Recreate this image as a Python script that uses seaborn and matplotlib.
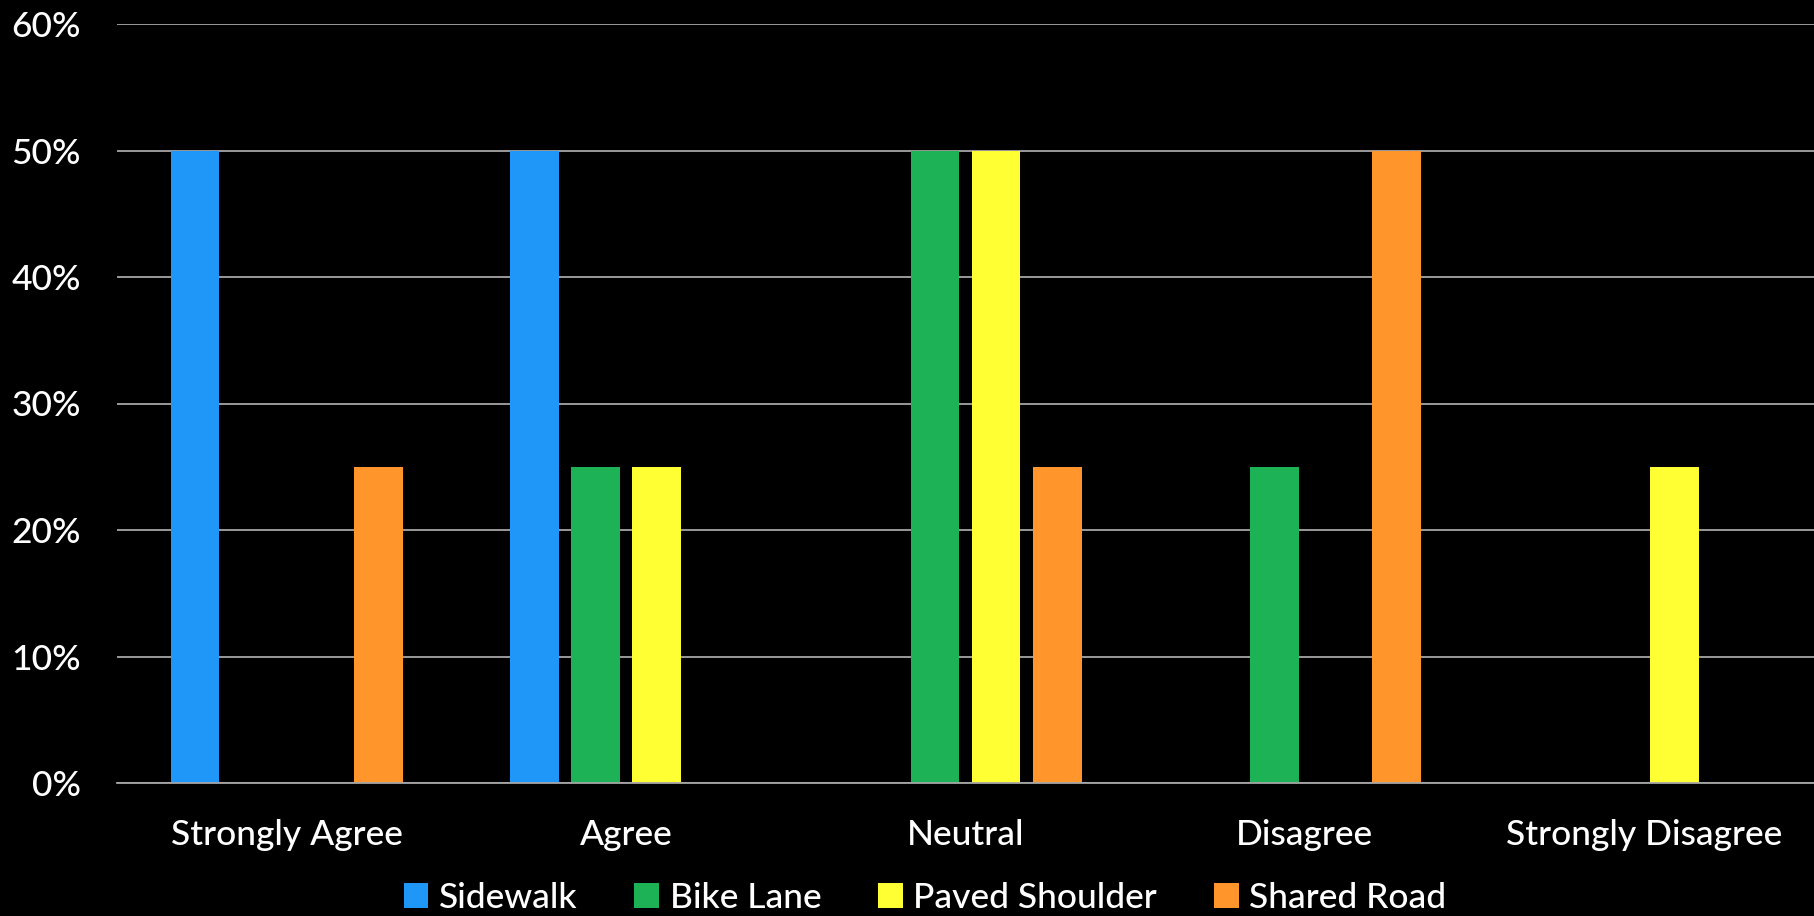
import matplotlib
matplotlib.use("Agg")
import matplotlib.pyplot as plt
import seaborn as sns
import pandas as pd
from matplotlib.ticker import PercentFormatter
from matplotlib.patches import Patch

categories = ["Strongly Agree", "Agree", "Neutral", "Disagree", "Strongly Disagree"]
series = ["Sidewalk", "Bike Lane", "Paved Shoulder", "Shared Road"]
sidewalk = [50, 50, 0, 0, 0]
bike_lane = [0, 25, 50, 25, 0]
paved_shoulder = [0, 25, 50, 0, 25]
shared_road = [25, 0, 25, 50, 0]
colors = ["#1E97F9", "#1DB255", "#FFFF33", "#FF952B"]

rows = []
for name, vals in zip(series, [sidewalk, bike_lane, paved_shoulder, shared_road]):
    for c, v in zip(categories, vals):
        rows.append({"category": c, "series": name, "value": v})
df = pd.DataFrame(rows)

sns.set_theme(style="dark")
plt.rcParams["font.family"] = ["Lato", "DejaVu Sans"]
plt.rcParams["font.weight"] = "medium"

fig = plt.figure(figsize=(18.14, 9.16), dpi=100, facecolor="black")
ax = fig.add_axes([117 / 1814, 1 - 783 / 916, (1814 - 117) / 1814, (783 - 24) / 916])
ax.set_facecolor("black")

sns.barplot(data=df, x="category", y="value", hue="series", order=categories,
            hue_order=series, palette=colors, width=0.72, gap=0.2,
            saturation=1, ax=ax, legend=False, linewidth=0)

ax.set_ylim(0, 60)
ax.set_xlim(-0.5, 4.5)
ax.set_yticks(range(0, 61, 10))
ax.yaxis.set_major_formatter(PercentFormatter(decimals=0))
ax.grid(axis="y", color="#A6A6A6", linewidth=1.3)
ax.grid(axis="x", visible=False)
ax.set_axisbelow(True)
for s in ["top", "right", "left"]:
    ax.spines[s].set_visible(False)
ax.spines["bottom"].set_color("#A6A6A6")
ax.spines["bottom"].set_linewidth(1.3)
ax.tick_params(axis="both", colors="white", labelsize=25.5, length=0)
ax.tick_params(axis="x", pad=26)
ax.tick_params(axis="y", pad=26)
ax.set_xlabel("")
ax.set_ylabel("")

handles = [Patch(facecolor=c, edgecolor="none") for c in colors]
leg = fig.legend(handles, series, loc="center", bbox_to_anchor=(925 / 1814, 1 - 898 / 916),
                 ncol=4, frameon=False, fontsize=25.5, labelcolor="white",
                 handlelength=0.7, handleheight=0.7, handletextpad=0.3, columnspacing=1.6)

fig.savefig("out.png", dpi=100, facecolor="black")
